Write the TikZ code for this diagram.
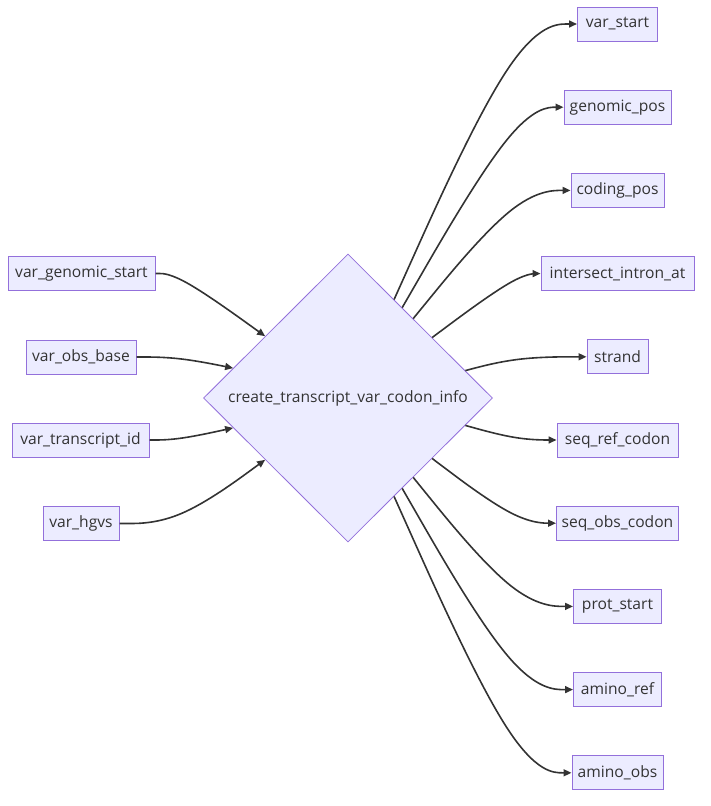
\documentclass[tikz,border=0pt]{standalone}
\usepackage{fontspec}
\setmainfont{Open Sans}
\usetikzlibrary{shapes.geometric,calc,arrows.meta}
\definecolor{nodefill}{HTML}{ECECFF}
\definecolor{nodeline}{HTML}{9370DB}
\definecolor{ink}{HTML}{333333}
\newcommand\mmedge[3]{%
  \draw[edge] (#1) -- ($(#1)!0.166667!(#2)$)
    .. controls ($(#1)!0.333333!(#2)$) and ($(#1)!0.666667!(#2)$) ..
    ($0.166667*(#1)+0.666667*(#2)+0.166667*(#3)$)
    .. controls ($(#2)!0.333333!(#3)$) and ($(#2)!0.666667!(#3)$) ..
    ($(#2)!0.833333!(#3)$) -- (#3);}
\begin{document}
\begin{tikzpicture}[x=1pt,y=-1pt,
  font=\fontsize{15.6}{18}\selectfont, text=ink,
  box/.style={draw=nodeline, fill=nodefill, line width=1pt, minimum height=34pt, inner sep=0pt},
  dia/.style={shape=diamond, shape aspect=1, draw=nodeline, fill=nodefill, line width=0.8pt, minimum width=289pt, minimum height=288pt, inner sep=0pt},
  edge/.style={draw=ink, line width=1.6pt, -{Triangle[length=8pt,width=7pt]}}]
\useasboundingbox (0,0) rectangle (710,806);
% centre node
\node[dia] (d) at (348,398) {create\_transcript\_var\_codon\_info};
% inputs
\node[box, minimum width=147pt] (i1) at (81.5,273.5) {var\_genomic\_start};
\node[box, minimum width=110pt] (i2) at (81,357) {var\_obs\_base};
\node[box, minimum width=137pt] (i3) at (80.5,440) {var\_transcript\_id};
\node[box, minimum width=76pt]  (i4) at (81,523.5) {var\_hgvs};
% outputs
\node[box, minimum width=80pt]  (o1)  at (617.5,24)    {var\_start};
\node[box, minimum width=107pt] (o2)  at (617.5,107.2) {genomic\_pos};
\node[box, minimum width=93pt]  (o3)  at (617.5,190.4) {coding\_pos};
\node[box, minimum width=153pt] (o4)  at (617.5,273.6) {intersect\_intron\_at};
\node[box, minimum width=61pt]  (o5)  at (617.5,356.8) {strand};
\node[box, minimum width=121pt] (o6)  at (617.5,440)   {seq\_ref\_codon};
\node[box, minimum width=122pt] (o7)  at (617.5,523.2) {seq\_obs\_codon};
\node[box, minimum width=88pt]  (o8)  at (617.5,606.4) {prot\_start};
\node[box, minimum width=88pt]  (o9)  at (617.5,689.6) {amino\_ref};
\node[box, minimum width=91pt]  (o10) at (617.5,772.8) {amino\_obs};
% diamond border points
\coordinate (di1) at ($(d.north)!0.572!(d.west)$);
\coordinate (di2) at ($(d.north)!0.793!(d.west)$);
\coordinate (di3) at ($(d.south)!0.793!(d.west)$);
\coordinate (di4) at ($(d.south)!0.572!(d.west)$);
\coordinate (do1) at ($(d.north)!0.318!(d.east)$);
\coordinate (do2) at ($(d.north)!0.374!(d.east)$);
\coordinate (do3) at ($(d.north)!0.45!(d.east)$);
\coordinate (do4) at ($(d.north)!0.581!(d.east)$);
\coordinate (do5) at ($(d.north)!0.81!(d.east)$);
\coordinate (do6) at ($(d.south)!0.81!(d.east)$);
\coordinate (do7) at ($(d.south)!0.581!(d.east)$);
\coordinate (do8) at ($(d.south)!0.45!(d.east)$);
\coordinate (do9) at ($(d.south)!0.374!(d.east)$);
\coordinate (do10) at ($(d.south)!0.318!(d.east)$);
% input edges
\foreach \k in {1,2,3,4}{
  \coordinate (mi\k) at ([xshift=-170pt]d.center |- i\k.east);
  \mmedge{i\k.east}{mi\k}{di\k}
}
% output edges
\foreach \k in {1,...,10}{
  \coordinate (mo\k) at ([xshift=170pt]d.center |- o\k.west);
  \mmedge{do\k}{mo\k}{o\k.west}
}
\end{tikzpicture}
\end{document}
